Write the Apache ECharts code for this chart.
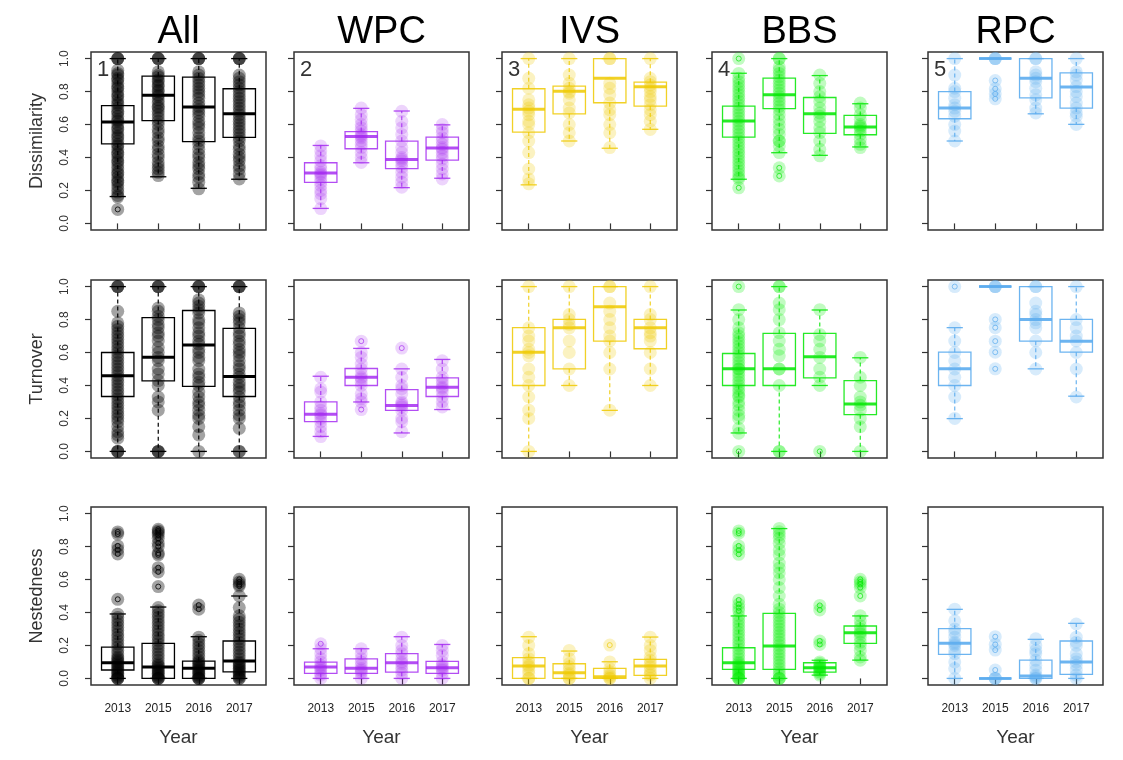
<!DOCTYPE html>
<html><head><meta charset="utf-8">
<script src="https://cdn.jsdelivr.net/npm/echarts@6/dist/echarts.min.js"></script>
<style>html,body{margin:0;background:#fff}#c{width:1123px;height:760px}</style>
</head><body><div id="c"></div>
<script>
// ---------- categories ----------
const years = ['2013', '2015', '2016', '2017'];
const groups = ['All', 'WPC', 'IVS', 'BBS', 'RPC'];
const measures = ['Dissimilarity', 'Turnover', 'Nestedness'];
const yTicks = [0, 0.2, 0.4, 0.6, 0.8, 1.0];

// ---------- box stats [lower whisker, Q1, median, Q3, upper whisker] per year ----------
const box_dis_All = [[0.163,0.482,0.616,0.715,1.0],[0.283,0.624,0.778,0.894,1.0],[0.213,0.496,0.707,0.888,1.0],[0.268,0.522,0.665,0.817,1.0]];
const box_dis_WPC = [[0.091,0.249,0.306,0.368,0.473],[0.368,0.453,0.527,0.557,0.698],[0.217,0.332,0.388,0.499,0.682],[0.274,0.384,0.457,0.523,0.598]];
const box_dis_IVS = [[0.234,0.554,0.692,0.817,1.0],[0.5,0.665,0.802,0.833,1.0],[0.456,0.732,0.881,1.0,1.0],[0.571,0.712,0.829,0.857,1.0]];
const box_dis_BBS = [[0.268,0.524,0.621,0.712,0.911],[0.429,0.696,0.78,0.881,1.0],[0.413,0.546,0.665,0.764,0.897],[0.464,0.538,0.585,0.655,0.726]];
const box_dis_RPC = [[0.5,0.635,0.7,0.8,1.0],[1,1,1,1,1],[0.665,0.762,0.881,1.0,1.0],[0.601,0.7,0.827,0.913,1.0]];

const box_turn_All = [[0,0.333,0.459,0.6,1],[0,0.428,0.572,0.812,1],[0,0.394,0.646,0.855,1],[0,0.333,0.455,0.747,1]];
const box_turn_WPC = [[0.091,0.181,0.225,0.3,0.456],[0.3,0.4,0.45,0.503,0.625],[0.112,0.249,0.278,0.375,0.501],[0.254,0.333,0.389,0.446,0.558]];
const box_turn_IVS = [[0,0.4,0.602,0.751,1],[0.4,0.501,0.751,0.801,1],[0.249,0.669,0.878,1,1],[0.4,0.623,0.751,0.801,1]];
const box_turn_BBS = [[0.112,0.4,0.501,0.594,0.858],[0,0.4,0.501,0.716,1],[0.4,0.446,0.574,0.716,0.858],[0,0.223,0.288,0.43,0.568]];
const box_turn_RPC = [[0.199,0.4,0.501,0.602,0.751],[1,1,1,1,1],[0.501,0.669,0.801,1,1],[0.335,0.602,0.669,0.801,1]];

const box_nest_All = [[0,0.051,0.095,0.19,0.391],[0,0,0.069,0.213,0.433],[0,0,0.061,0.105,0.253],[0,0.04,0.105,0.227,0.5]];
const box_nest_WPC = [[0,0.03,0.069,0.099,0.18],[0,0.03,0.061,0.119,0.18],[0,0.038,0.095,0.15,0.253],[0,0.03,0.065,0.103,0.206]];
const box_nest_IVS = [[0,0,0.075,0.126,0.253],[0,0,0.034,0.089,0.166],[0,0,0.01,0.061,0.101],[0,0.018,0.075,0.115,0.251]];
const box_nest_BBS = [[0,0.055,0.095,0.186,0.379],[0,0.055,0.196,0.395,0.909],[0.02,0.038,0.065,0.095,0.11],[0.111,0.213,0.277,0.318,0.379]];
const box_nest_RPC = [[0,0.146,0.213,0.302,0.419],[0,0,0,0,0],[0,0,0.014,0.111,0.237],[0,0.024,0.099,0.227,0.334]];

// ---------- individual points per year ----------
const pts_dis_All = [
  [1,1,1,0.93,0.91,0.9,0.88,0.87,0.85,0.83,0.82,0.8,0.78,0.77,0.75,0.73,0.72,0.7,0.68,0.67,0.65,0.63,0.62,0.6,0.58,0.57,0.55,0.53,0.52,0.5,0.48,0.47,0.45,0.43,0.42,0.4,0.38,0.37,0.35,0.33,0.31,0.3,0.28,0.26,0.25,0.23,0.21,0.19,0.17,0.16],
  [1,1,1,0.92,0.9,0.89,0.87,0.86,0.84,0.83,0.81,0.8,0.78,0.77,0.75,0.73,0.71,0.7,0.68,0.66,0.64,0.62,0.6,0.57,0.55,0.52,0.5,0.47,0.45,0.42,0.4,0.37,0.35,0.33,0.31,0.29],
  [1,1,1,0.92,0.9,0.88,0.86,0.84,0.82,0.8,0.78,0.76,0.73,0.71,0.69,0.67,0.65,0.62,0.6,0.58,0.55,0.52,0.5,0.48,0.45,0.42,0.4,0.37,0.35,0.33,0.3,0.28,0.25,0.21],
  [1,1,1,0.9,0.88,0.86,0.84,0.82,0.8,0.78,0.76,0.74,0.72,0.7,0.68,0.66,0.64,0.62,0.6,0.58,0.56,0.54,0.52,0.5,0.47,0.45,0.42,0.4,0.38,0.35,0.33,0.3,0.27]];
const pts_dis_WPC = [
  [0.47,0.44,0.41,0.38,0.35,0.33,0.31,0.3,0.29,0.27,0.25,0.23,0.2,0.18,0.15,0.09],
  [0.7,0.66,0.63,0.6,0.58,0.56,0.54,0.53,0.52,0.5,0.48,0.46,0.43,0.4,0.37],
  [0.68,0.62,0.58,0.54,0.5,0.46,0.43,0.4,0.39,0.38,0.36,0.34,0.31,0.28,0.25,0.22],
  [0.6,0.57,0.55,0.52,0.5,0.48,0.46,0.45,0.43,0.41,0.39,0.36,0.33,0.3,0.27]];
const pts_dis_IVS = [
  [1,0.88,0.82,0.75,0.72,0.7,0.68,0.66,0.62,0.6,0.55,0.5,0.43,0.33,0.27,0.24],
  [1,0.9,0.85,0.82,0.8,0.79,0.75,0.7,0.67,0.6,0.55,0.5],
  [1,1,0.85,0.82,0.78,0.73,0.69,0.66,0.6,0.55,0.46],
  [1,0.88,0.86,0.84,0.82,0.8,0.77,0.75,0.72,0.69,0.66,0.62,0.57]];
const pts_dis_BBS = [
  [0.91,0.88,0.86,0.84,0.82,0.8,0.78,0.76,0.74,0.72,0.7,0.68,0.66,0.64,0.62,0.6,0.58,0.56,0.54,0.52,0.5,0.48,0.46,0.44,0.42,0.4,0.38,0.36,0.34,0.32,0.3,0.28,0.27],
  [1,1,0.95,0.93,0.91,0.89,0.87,0.85,0.83,0.81,0.79,0.77,0.75,0.73,0.71,0.69,0.66,0.63,0.6,0.57,0.54,0.5,0.5,0.47,0.43],
  [0.9,0.85,0.8,0.77,0.74,0.7,0.67,0.65,0.62,0.58,0.55,0.5,0.45,0.41],
  [0.73,0.7,0.66,0.63,0.6,0.59,0.58,0.56,0.54,0.51,0.48,0.46]];
const pts_dis_RPC = [
  [1,0.9,0.82,0.8,0.76,0.72,0.7,0.68,0.65,0.6,0.56,0.5],
  [1,1,1],
  [1,1,0.92,0.9,0.88,0.86,0.82,0.78,0.75,0.7,0.67],
  [1,0.92,0.9,0.87,0.83,0.8,0.77,0.73,0.7,0.67,0.65,0.6]];

const pts_turn_All = [
  [1,1,1,0.85,0.78,0.76,0.74,0.72,0.7,0.68,0.66,0.64,0.62,0.6,0.58,0.56,0.54,0.52,0.5,0.48,0.46,0.44,0.42,0.4,0.38,0.36,0.34,0.32,0.3,0.28,0.26,0.24,0.22,0.2,0.18,0.15,0.12,0.1,0.08,0,0,0],
  [1,1,1,0.87,0.85,0.82,0.8,0.77,0.75,0.72,0.7,0.67,0.63,0.6,0.57,0.55,0.5,0.47,0.43,0.4,0.33,0.3,0.25,0,0,0],
  [1,1,1,0.92,0.9,0.88,0.86,0.84,0.8,0.78,0.75,0.72,0.7,0.67,0.65,0.62,0.6,0.57,0.55,0.5,0.47,0.45,0.42,0.4,0.36,0.33,0.3,0.28,0.25,0.22,0.2,0.15,0.1,0],
  [1,1,1,0.84,0.82,0.8,0.78,0.75,0.72,0.7,0.67,0.65,0.62,0.6,0.58,0.55,0.52,0.5,0.47,0.45,0.42,0.4,0.38,0.36,0.33,0.3,0.28,0.25,0.22,0.2,0.14,0,0]];
const pts_turn_WPC = [
  [0.45,0.38,0.36,0.3,0.27,0.25,0.23,0.22,0.2,0.18,0.15,0.12,0.09],
  [0.6,0.57,0.53,0.5,0.47,0.45,0.44,0.42,0.4,0.35,0.32,0.3],
  [0.5,0.45,0.4,0.38,0.35,0.3,0.29,0.28,0.27,0.25,0.2,0.18,0.12],
  [0.55,0.5,0.45,0.43,0.41,0.39,0.38,0.36,0.33,0.3,0.27]];
const pts_turn_IVS = [
  [1,0.75,0.7,0.67,0.62,0.6,0.58,0.5,0.45,0.4,0.33,0.25,0.2,0],
  [1,0.83,0.8,0.77,0.75,0.67,0.6,0.5,0.4],
  [1,1,0.9,0.85,0.8,0.75,0.7,0.67,0.6,0.5,0.25],
  [1,0.83,0.8,0.75,0.72,0.7,0.67,0.6,0.5,0.4]];
const pts_turn_BBS = [
  [0.86,0.8,0.75,0.72,0.7,0.68,0.66,0.64,0.62,0.6,0.58,0.56,0.54,0.52,0.5,0.5,0.48,0.46,0.44,0.42,0.4,0.38,0.36,0.34,0.33,0.3,0.28,0.25,0.22,0.2,0.14,0.11],
  [1,1,0.9,0.86,0.8,0.72,0.67,0.62,0.58,0.5,0.5,0.4,0,0],
  [0.86,0.71,0.67,0.62,0.57,0.5,0.45,0.4],
  [0.57,0.45,0.4,0.33,0.3,0.28,0.25,0.2,0.15,0]];
const pts_turn_RPC = [
  [0.75,0.67,0.6,0.55,0.5,0.45,0.4,0.33,0.2],
  [1,1,1],
  [1,1,0.9,0.85,0.83,0.8,0.78,0.75,0.67,0.6,0.5],
  [1,0.8,0.75,0.7,0.67,0.6,0.5,0.33]];

const pts_nest_All = [
  [0.39,0.37,0.35,0.33,0.31,0.29,0.27,0.25,0.23,0.21,0.19,0.17,0.15,0.13,0.12,0.11,0.1,0.09,0.08,0.07,0.06,0.05,0.04,0.03,0.02,0.01,0,0,0],
  [0.43,0.41,0.39,0.37,0.35,0.33,0.31,0.29,0.27,0.25,0.23,0.21,0.19,0.17,0.15,0.13,0.11,0.09,0.08,0.07,0.06,0.05,0.04,0.03,0.02,0.01,0,0,0],
  [0.25,0.23,0.21,0.19,0.17,0.15,0.13,0.11,0.1,0.09,0.08,0.07,0.06,0.05,0.04,0.03,0.02,0.01,0,0,0],
  [0.5,0.43,0.38,0.36,0.34,0.32,0.3,0.28,0.26,0.24,0.22,0.2,0.18,0.16,0.14,0.12,0.1,0.09,0.08,0.07,0.06,0.05,0.04,0.03,0.02,0.01,0,0]];
const pts_nest_WPC = [
  [0.18,0.15,0.12,0.1,0.08,0.07,0.06,0.05,0.03,0.02,0],
  [0.18,0.15,0.12,0.1,0.08,0.06,0.05,0.04,0.03,0],
  [0.25,0.2,0.17,0.15,0.12,0.1,0.09,0.07,0.05,0.03,0],
  [0.2,0.17,0.14,0.1,0.08,0.07,0.06,0.05,0.03,0]];
const pts_nest_IVS = [
  [0.25,0.2,0.15,0.12,0.1,0.08,0.07,0.05,0.03,0,0],
  [0.17,0.12,0.09,0.07,0.05,0.03,0.02,0,0],
  [0.1,0.06,0.04,0.02,0.01,0,0],
  [0.25,0.2,0.17,0.13,0.11,0.09,0.07,0.05,0.03,0.02,0]];
const pts_nest_BBS = [
  [0.38,0.36,0.34,0.32,0.3,0.28,0.26,0.24,0.22,0.2,0.18,0.16,0.14,0.12,0.1,0.09,0.08,0.07,0.06,0.05,0.04,0.03,0.02,0.01,0,0,0],
  [0.91,0.89,0.87,0.85,0.82,0.78,0.75,0.7,0.67,0.64,0.6,0.55,0.5,0.45,0.42,0.4,0.38,0.36,0.34,0.32,0.3,0.28,0.26,0.24,0.22,0.2,0.18,0.16,0.14,0.12,0.1,0.08,0.06,0.04,0.02,0,0,0],
  [0.1,0.09,0.08,0.07,0.065,0.06,0.05,0.04,0.03,0.02],
  [0.38,0.35,0.32,0.3,0.28,0.27,0.25,0.22,0.2,0.17,0.13,0.11]];
const pts_nest_RPC = [
  [0.42,0.35,0.3,0.28,0.25,0.22,0.21,0.2,0.17,0.15,0.1,0.06,0],
  [0,0,0],
  [0.24,0.2,0.17,0.15,0.11,0.08,0.05,0.02,0.01,0,0],
  [0.33,0.25,0.22,0.2,0.15,0.12,0.1,0.08,0.05,0.02,0]];

// ---------- outliers per year ----------
const out_dis_All = [[0.085],[],[],[]];
const out_dis_WPC = [[],[],[],[]];
const out_dis_IVS = [[],[],[],[]];
const out_dis_BBS = [[1.0,0.216],[0.337,0.288],[],[]];
const out_dis_RPC = [[],[0.867,0.817,0.786,0.756],[],[]];
const out_turn_All = [[],[],[],[]];
const out_turn_WPC = [[],[0.669,0.254],[0.627],[]];
const out_turn_IVS = [[],[],[],[]];
const out_turn_BBS = [[1.0,0.0],[],[0.0],[]];
const out_turn_RPC = [[1.0],[0.801,0.751,0.669,0.602,0.501],[],[]];
const out_nest_All = [[0.889,0.876,0.804,0.78,0.755,0.48],[0.905,0.895,0.885,0.87,0.85,0.82,0.8,0.76,0.75,0.672,0.646,0.557],[0.445,0.42],[0.601,0.585,0.57,0.56]];
const out_nest_WPC = [[0.21],[],[],[]];
const out_nest_IVS = [[],[],[0.202],[]];
const out_nest_BBS = [[0.895,0.881,0.804,0.779,0.753,0.476,0.45,0.429,0.41],[],[0.443,0.415,0.227,0.206],[0.601,0.585,0.571,0.551,0.5]];
const out_nest_RPC = [[],[0.253,0.206,0.172,0.051],[],[]];

// ---------- assembly ----------
const panelData = [
  [[box_dis_All,pts_dis_All,out_dis_All],[box_dis_WPC,pts_dis_WPC,out_dis_WPC],[box_dis_IVS,pts_dis_IVS,out_dis_IVS],[box_dis_BBS,pts_dis_BBS,out_dis_BBS],[box_dis_RPC,pts_dis_RPC,out_dis_RPC]],
  [[box_turn_All,pts_turn_All,out_turn_All],[box_turn_WPC,pts_turn_WPC,out_turn_WPC],[box_turn_IVS,pts_turn_IVS,out_turn_IVS],[box_turn_BBS,pts_turn_BBS,out_turn_BBS],[box_turn_RPC,pts_turn_RPC,out_turn_RPC]],
  [[box_nest_All,pts_nest_All,out_nest_All],[box_nest_WPC,pts_nest_WPC,out_nest_WPC],[box_nest_IVS,pts_nest_IVS,out_nest_IVS],[box_nest_BBS,pts_nest_BBS,out_nest_BBS],[box_nest_RPC,pts_nest_RPC,out_nest_RPC]]
];

// ---------- styling / layout ----------
const lineColors = ['#000000', 'rgba(160,32,240,0.8)', 'rgba(238,201,0,0.85)', 'rgba(0,230,0,0.85)', 'rgba(92,172,238,0.9)'];
const pointColors = ['rgba(0,0,0,0.45)', 'rgba(160,32,240,0.24)', 'rgba(238,201,0,0.3)', 'rgba(0,238,0,0.3)', 'rgba(92,172,238,0.3)'];
const colLeft = [91, 294, 502, 712, 928];
const rowTop = [52, 280, 507];
const plotW = 175, plotH = 178;
const FONT = '"Liberation Sans", Arial, Helvetica, sans-serif';

function boxRenderer(color) {
  return function (params, api) {
    const x = api.value(0);
    const lo = api.value(1), q1 = api.value(2), md = api.value(3), q3 = api.value(4), hi = api.value(5);
    const bw = api.size([0.8, 0])[0];
    const cw = api.size([0.4, 0])[0];
    const cx = api.coord([x, md])[0];
    const y = v => api.coord([x, v])[1];
    const ln = (x1, y1, x2, y2, w, dash) => {
      const st = { stroke: color, lineWidth: w, fill: null };
      if (dash) st.lineDash = dash;
      return { type: 'line', shape: { x1, y1, x2, y2 }, style: st };
    };
    return { type: 'group', children: [
      ln(cx, y(q3), cx, y(hi), 1.2, [4, 3]),
      ln(cx, y(q1), cx, y(lo), 1.2, [4, 3]),
      ln(cx - cw / 2, y(hi), cx + cw / 2, y(hi), 1.3),
      ln(cx - cw / 2, y(lo), cx + cw / 2, y(lo), 1.3),
      { type: 'rect', shape: { x: cx - bw / 2, y: y(q3), width: bw, height: y(q1) - y(q3) },
        style: { fill: null, stroke: color, lineWidth: 1.3 } },
      ln(cx - bw / 2, y(md), cx + bw / 2, y(md), 3)
    ] };
  };
}

const grid = [], xAxis = [], yAxis = [], series = [], graphic = [];
let idx = 0;
for (let r = 0; r < 3; r++) {
  for (let c = 0; c < 5; c++) {
    grid.push({ left: colLeft[c], top: rowTop[r], width: plotW, height: plotH, show: true,
      borderColor: '#333', borderWidth: 1.5, backgroundColor: 'transparent' });
    xAxis.push({ gridIndex: idx, type: 'value', min: 0.34, max: 4.66,
      splitLine: { show: false }, axisLine: { show: false },
      axisTick: { show: true, customValues: [1, 2, 3, 4], length: 6, lineStyle: { color: '#333', width: 1.2 } },
      axisLabel: { show: r === 2, customValues: [1, 2, 3, 4], formatter: v => years[Math.round(v) - 1],
        margin: 18, fontSize: 12, color: '#222', fontFamily: FONT },
      name: r === 2 ? 'Year' : '', nameLocation: 'middle', nameGap: 43,
      nameTextStyle: { fontSize: 19, color: '#333', fontFamily: FONT } });
    yAxis.push({ gridIndex: idx, type: 'value', min: -0.04, max: 1.04,
      splitLine: { show: false }, axisLine: { show: false },
      axisTick: { show: true, customValues: yTicks, length: 6, lineStyle: { color: '#333', width: 1.2 } },
      axisLabel: { show: c === 0, customValues: yTicks, rotate: 90, formatter: v => v.toFixed(1),
        margin: 20, fontSize: 12, color: '#333', fontFamily: FONT },
      name: c === 0 ? measures[r] : '', nameLocation: 'middle', nameRotate: 90, nameGap: 45,
      nameTextStyle: { fontSize: 18, color: '#333', fontFamily: FONT } });
    const [box, pts, out] = panelData[r][c];
    const ptData = [];
    pts.forEach((arr, i) => arr.forEach(v => ptData.push([i + 1, v])));
    out.forEach((arr, i) => arr.forEach(v => ptData.push([i + 1, v])));
    const outData = [];
    out.forEach((arr, i) => arr.forEach(v => outData.push([i + 1, v])));
    series.push({ type: 'scatter', xAxisIndex: idx, yAxisIndex: idx, data: ptData, symbolSize: 13,
      itemStyle: { color: pointColors[c] }, silent: true, animation: false });
    series.push({ type: 'scatter', xAxisIndex: idx, yAxisIndex: idx, data: outData, symbol: 'circle', symbolSize: 5,
      itemStyle: { color: 'rgba(255,255,255,0)', borderColor: lineColors[c], borderWidth: 1 }, silent: true, animation: false, z: 3 });
    series.push({ type: 'custom', xAxisIndex: idx, yAxisIndex: idx,
      data: box.map((b, i) => [i + 1, ...b]), encode: { x: 0, y: [1, 2, 3, 4, 5] },
      renderItem: boxRenderer(lineColors[c]), silent: true, animation: false, z: 4 });
    idx++;
  }
}

groups.forEach((g, c) => {
  graphic.push({ type: 'text', x: colLeft[c] + plotW / 2, y: 33,
    style: { text: g, font: '38px ' + FONT, fill: '#000', textAlign: 'center', textVerticalAlign: 'middle', align: 'center', verticalAlign: 'middle' } });
  graphic.push({ type: 'text', x: colLeft[c] + 6, y: 70,
    style: { text: String(c + 1), font: '22px ' + FONT, fill: '#333', textAlign: 'left', textVerticalAlign: 'middle', align: 'left', verticalAlign: 'middle' }, z: 10 });
});

const chart = echarts.init(document.getElementById('c'), null, { renderer: 'canvas' });
chart.setOption({ animation: false, backgroundColor: '#fff', grid, xAxis, yAxis, series, graphic });
</script>
</body></html>
